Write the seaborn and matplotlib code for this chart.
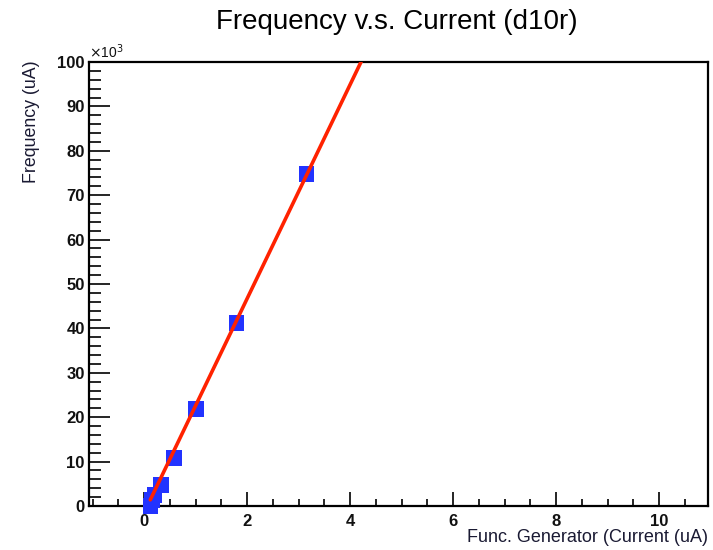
import numpy as np
import pandas as pd
import matplotlib
matplotlib.use("Agg")
import matplotlib.pyplot as plt
from matplotlib.ticker import MultipleLocator, FuncFormatter
import seaborn as sns

# Measured points: function-generator current (uA) vs. frequency
current_uA = [0.12, 0.15, 0.20, 0.33, 0.58, 1.01, 1.79, 3.15]
frequency = [0, 1300, 2500, 4700, 10800, 21800, 41200, 74800]

# Linear fit parameters (frequency = slope * current + offset)
fit_slope = 24100.0
fit_offset = -1500.0

title = "Frequency v.s. Current (d10r)"
x_label = "Func. Generator (Current (uA)"
y_label = "Frequency (uA)"

sns.set_theme(style="white")
plt.rcParams["font.family"] = ["Liberation Sans", "DejaVu Sans"]

df = pd.DataFrame({"current": current_uA, "frequency": frequency})
fit_x = np.linspace(min(current_uA), 4.4, 50)
fit_df = pd.DataFrame({"current": fit_x, "frequency": fit_slope * fit_x + fit_offset})

fig = plt.figure(figsize=(7.13, 5.5), dpi=100)
ax = fig.add_axes([89 / 713, 44 / 550, 619 / 713, 444 / 550])

sns.scatterplot(data=df, x="current", y="frequency", ax=ax, marker="s", s=125,
                color="#2233ff", edgecolor="none", linewidth=0, clip_on=False, zorder=3)
sns.lineplot(data=fit_df, x="current", y="frequency", ax=ax, color="#ff2200",
             linewidth=2.6, zorder=4)

ax.set_xlim(-1.07, 10.95)
ax.set_ylim(0, 100000)

ax.xaxis.set_major_locator(MultipleLocator(2))
ax.xaxis.set_minor_locator(MultipleLocator(0.5))
ax.yaxis.set_major_locator(MultipleLocator(10000))
ax.yaxis.set_minor_locator(MultipleLocator(2000))
ax.yaxis.set_major_formatter(FuncFormatter(lambda v, p: f"{v / 1000:g}"))

ax.tick_params(axis="both", which="both", direction="in", color="black",
               labelsize=12, labelcolor="#111111", width=1.2)
ax.tick_params(axis="x", which="major", length=10, pad=6)
ax.tick_params(axis="x", which="minor", length=5)
ax.tick_params(axis="y", which="major", length=15, pad=3)
ax.tick_params(axis="y", which="minor", length=8.5)
ax.tick_params(bottom=True, left=True, top=False, right=False, which="both")
for lbl in ax.get_xticklabels() + ax.get_yticklabels():
    lbl.set_fontweight("bold")

for side in ["left", "right", "top", "bottom"]:
    ax.spines[side].set_visible(True)
    ax.spines[side].set_color("black")
    ax.spines[side].set_linewidth(1.6)

ax.set_xlabel("")
ax.set_ylabel("")
fig.text(708 / 713, 1 - 537 / 550, x_label, ha="right", va="center",
         fontsize=13, color="#1a1a33")
fig.text(32 / 713, 1 - 60 / 550, y_label, ha="center", va="top",
         rotation=90, fontsize=12.8, color="#1a1a33")
fig.text(89 / 713, 1 - 52 / 550, r"$\times$10$^3$", ha="left", va="center",
         fontsize=10, color="#111111")
fig.text(397 / 713, 1 - 22 / 550, title, ha="center", va="center",
         fontsize=20, color="black")

fig.savefig("out.png", dpi=100)
